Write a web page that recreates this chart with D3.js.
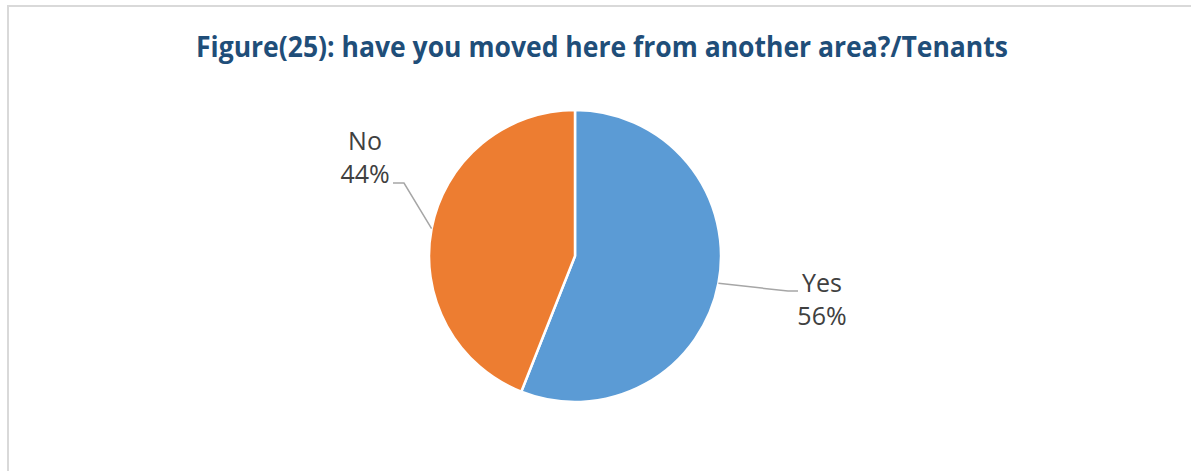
<!DOCTYPE html>
<html>
<head>
<meta charset="utf-8">
<script src="https://cdn.jsdelivr.net/npm/d3@7"></script>
<style>
  html, body { margin: 0; padding: 0; background: #ffffff; }
  svg { display: block; }
</style>
</head>
<body>
<svg id="chart" width="1191" height="471"></svg>
<script>
// Survey answers
const categories = ["Yes", "No"];
const values = [56, 44];
const percentLabels = ["56%", "44%"];
const colors = ["#5B9BD5", "#ED7D31"];
const titleText = "Figure(25): have you moved here from another area?/Tenants";

const svg = d3.select("#chart");
const W = 1191, H = 471;

// chart area frame (right and bottom edges run past the page)
svg.append("rect")
  .attr("x", 8).attr("y", 6)
  .attr("width", W + 20).attr("height", H + 20)
  .attr("fill", "#ffffff")
  .attr("stroke", "#d9d9d9")
  .attr("stroke-width", 2);

// title
svg.append("text")
  .attr("x", 196).attr("y", 57)
  .attr("textLength", 812)
  .attr("lengthAdjust", "spacingAndGlyphs")
  .attr("font-family", "'Open Sans', 'Noto Sans', sans-serif")
  .attr("font-weight", 700)
  .attr("font-size", 28)
  .attr("fill", "#1F4E79")
  .text(titleText);

// pie
const cx = 575, cy = 256, r = 146;
const data = categories.map((c, i) => ({ name: c, value: values[i], label: percentLabels[i], color: colors[i] }));
const pie = d3.pie().sort(null).value(d => d.value);
const arcs = pie(data);
const arc = d3.arc().innerRadius(0).outerRadius(r);

const g = svg.append("g").attr("transform", `translate(${cx},${cy})`);
g.selectAll("path.slice")
  .data(arcs)
  .join("path")
  .attr("class", "slice")
  .attr("d", arc)
  .attr("fill", d => d.data.color)
  .attr("stroke", "#ffffff")
  .attr("stroke-width", 2.5)
  .attr("stroke-linejoin", "round");

// leader lines start on the rim at each slice's mid-angle
function rimPoint(d) {
  const a = (d.startAngle + d.endAngle) / 2;
  return [Math.sin(a) * r, -Math.cos(a) * r];
}

// label layout: elbow and text anchor offsets relative to pie centre
const labelLayout = {
  Yes: { elbow: [213, 35], end: [223, 35], text: [247, 36] },
  No:  { elbow: [-171, -73], end: [-182, -73], text: [-210, -106] }
};

arcs.forEach(d => {
  const L = labelLayout[d.data.name];
  const p0 = rimPoint(d);
  g.append("polyline")
    .attr("points", [p0, L.elbow, L.end].map(p => p.join(",")).join(" "))
    .attr("fill", "none")
    .attr("stroke", "#a6a6a6")
    .attr("stroke-width", 1.5);
  const t = g.append("text")
    .attr("x", L.text[0]).attr("y", L.text[1])
    .attr("text-anchor", "middle")
    .attr("font-family", "'Open Sans', 'Noto Sans', sans-serif")
    .attr("font-size", 25)
    .attr("fill", "#404040");
  t.append("tspan").attr("x", L.text[0]).attr("dy", 0).text(d.data.name);
  t.append("tspan").attr("x", L.text[0]).attr("dy", 33).text(d.data.label);
});
</script>
</body>
</html>
